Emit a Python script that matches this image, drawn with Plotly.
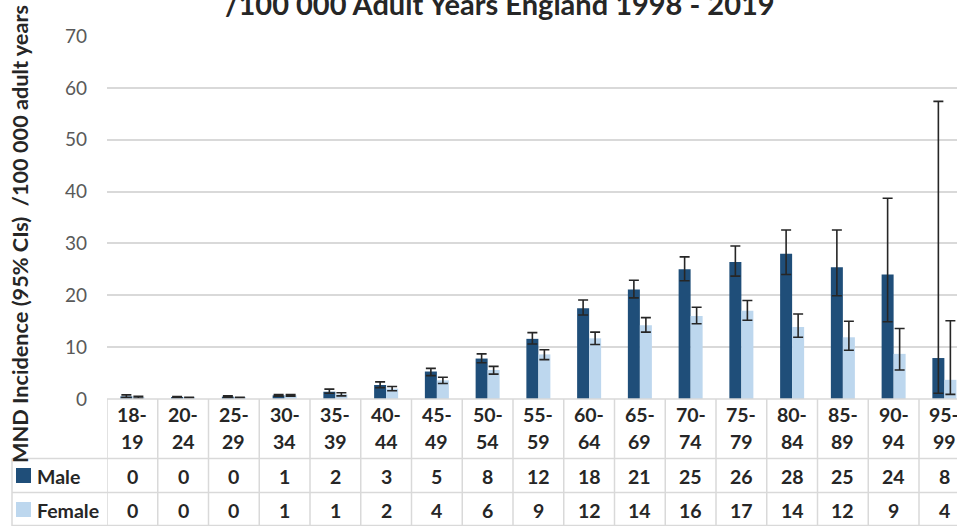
import plotly.graph_objects as go

categories = ["18-19", "20-24", "25-29", "30-34", "35-39", "40-44", "45-49", "50-54", "55-59",
              "60-64", "65-69", "70-74", "75-79", "80-84", "85-89", "90-94", "95-99"]

male_rate = [0.5, 0.35, 0.45, 0.7, 1.4, 2.7, 5.3, 7.8, 11.6, 17.5, 21.1, 25.0, 26.4, 28.0, 25.4, 24.0, 7.9]
male_upper = [0.8, 0.45, 0.6, 0.85, 1.9, 3.3, 5.9, 8.7, 12.8, 19.1, 22.9, 27.4, 29.5, 32.6, 32.6, 38.7, 57.4]
male_lower = [0.3, 0.25, 0.3, 0.55, 1.1, 2.2, 4.5, 7.0, 10.6, 16.2, 19.5, 22.8, 23.7, 24.0, 19.9, 14.9, 1.1]

female_rate = [0.3, 0.26, 0.26, 0.7, 0.9, 2.0, 3.6, 5.6, 8.6, 11.7, 14.2, 16.0, 17.0, 13.9, 11.9, 8.7, 3.7]
female_upper = [0.5, 0.35, 0.35, 0.85, 1.2, 2.4, 4.2, 6.3, 9.5, 12.9, 15.7, 17.7, 19.0, 16.4, 15.0, 13.6, 15.1]
female_lower = [0.15, 0.18, 0.18, 0.55, 0.6, 1.6, 3.0, 4.8, 7.6, 10.5, 12.9, 14.5, 15.2, 11.9, 9.4, 5.6, 0.9]

male_table = [0, 0, 0, 1, 2, 3, 5, 8, 12, 18, 21, 25, 26, 28, 25, 24, 8]
female_table = [0, 0, 0, 1, 1, 2, 4, 6, 9, 12, 14, 16, 17, 14, 12, 9, 4]

y_ticks = [0, 10, 20, 30, 40, 50, 60, 70]

MALE_C = "#1f4e79"
FEMALE_C = "#bdd7ee"
GRID = "#d9d9d9"
TXT = "#262626"
FONT = "Lato"

W, H = 957, 526
L, T, B = 107, 36, 127
PW, PH = W - L, H - T - B
CAT_W = 50.75


def py(p):
    return (H - B - p) / PH


def px(p):
    return (p - L) / PW


x_idx = list(range(len(categories)))

fig = go.Figure()
fig.add_trace(go.Bar(
    x=x_idx, y=male_rate, name="Male", marker=dict(color=MALE_C, line=dict(width=0)),
    error_y=dict(type="data", symmetric=False,
                 array=[u - v for u, v in zip(male_upper, male_rate)],
                 arrayminus=[v - l for v, l in zip(male_rate, male_lower)],
                 color="#262626", thickness=1.6, width=5),
))
fig.add_trace(go.Bar(
    x=x_idx, y=female_rate, name="Female", marker=dict(color=FEMALE_C, line=dict(width=0)),
    error_y=dict(type="data", symmetric=False,
                 array=[u - v for u, v in zip(female_upper, female_rate)],
                 arrayminus=[v - l for v, l in zip(female_rate, female_lower)],
                 color="#262626", thickness=1.6, width=5),
))

shapes = []
ann = []
line = dict(color=GRID, width=1.5)
# table horizontal lines
shapes.append(dict(type="line", xref="paper", yref="paper", x0=0, x1=1, y0=py(399), y1=py(399), line=line))
for yy in (458.5, 492.5, 525.5):
    shapes.append(dict(type="line", xref="paper", yref="paper", x0=px(12), x1=1, y0=py(yy), y1=py(yy), line=line))
# table vertical lines
shapes.append(dict(type="line", xref="paper", yref="paper", x0=px(12), x1=px(12), y0=py(458.5), y1=py(526), line=line))
for k in range(-1, len(categories)):
    shapes.append(dict(type="line", xref="x", yref="paper", x0=k + 0.5, x1=k + 0.5,
                       y0=py(526), y1=py(399), line=line))
# legend keys
shapes.append(dict(type="rect", xref="paper", yref="paper", x0=px(16), x1=px(31), y0=py(483), y1=py(468),
                   fillcolor=MALE_C, line=dict(width=0)))
shapes.append(dict(type="rect", xref="paper", yref="paper", x0=px(16), x1=px(31), y0=py(517), y1=py(502),
                   fillcolor=FEMALE_C, line=dict(width=0)))

tfont = dict(family=FONT, size=19.5, color=TXT, weight="bold")
for i, c in enumerate(categories):
    a, b = c.split("-")
    ann.append(dict(x=i, xref="x", y=py(414), yref="paper", text=a + "-", showarrow=False, font=tfont,
                    xanchor="center", yanchor="middle"))
    ann.append(dict(x=i, xref="x", y=py(441), yref="paper", text=b, showarrow=False, font=tfont,
                    xanchor="center", yanchor="middle"))
    ann.append(dict(x=i, xref="x", y=py(476), yref="paper", text=str(male_table[i]), showarrow=False,
                    font=tfont, xanchor="center", yanchor="middle"))
    ann.append(dict(x=i, xref="x", y=py(510), yref="paper", text=str(female_table[i]), showarrow=False,
                    font=tfont, xanchor="center", yanchor="middle"))

ann.append(dict(x=px(35), xref="paper", y=py(476), yref="paper", text="Male", showarrow=False, font=tfont,
                xanchor="left", yanchor="middle"))
ann.append(dict(x=px(35), xref="paper", y=py(510), yref="paper", text="Female", showarrow=False, font=tfont,
                xanchor="left", yanchor="middle"))

# y-axis title
ann.append(dict(x=px(20), xref="paper", y=py(234), yref="paper", text="MND Incidence (95% CIs)  /100 000 adult years",
                showarrow=False, textangle=-90, font=dict(family=FONT, size=21.7, color=TXT, weight="bold"),
                xanchor="center", yanchor="middle"))
# chart title (top line is outside the visible area)
ann.append(dict(x=px(500), xref="paper", y=py(3), yref="paper", text="/100 000 Adult Years England 1998 - 2019",
                showarrow=False, font=dict(family=FONT, size=29, color=TXT, weight="bold"),
                xanchor="center", yanchor="middle"))

fig.update_layout(
    width=W, height=H,
    margin=dict(l=L, r=0, t=T, b=B, pad=0),
    paper_bgcolor="white", plot_bgcolor="white",
    barmode="group", bargap=0.527, bargroupgap=0,
    showlegend=False,
    shapes=shapes, annotations=ann,
    xaxis=dict(range=[-0.5, -0.5 + PW / CAT_W], showticklabels=False, showgrid=False, zeroline=False,
               showline=False, ticks=""),
    yaxis=dict(range=[0, 70], tickvals=y_ticks, showgrid=True, gridcolor=GRID, gridwidth=1.5,
               zeroline=False, showline=False, ticks="", ticklabelstandoff=19,
               tickfont=dict(family=FONT, size=19, color="#595959")),
)

fig.write_html("out.html", config={"displayModeBar": False},
               post_script="document.body.style.margin='0px';document.body.style.overflow='hidden';")
